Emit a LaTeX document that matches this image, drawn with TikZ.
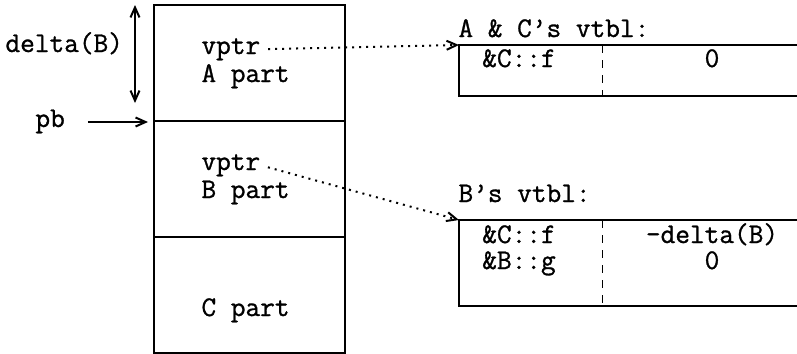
\documentclass[tikz,border=0pt]{standalone}
\usepackage{fontspec}
\setmonofont{Latin Modern Mono}[FakeBold=1]
\usetikzlibrary{arrows.meta}

\begin{document}
\begin{tikzpicture}[x=0.4pt,y=-0.4pt, >={Straight Barb[length=4pt,width=3.6pt]},
    every node/.style={font=\ttfamily\fontsize{11.4}{13}\selectfont},
    part/.style={draw, thick, minimum width=76.4pt, minimum height=46.4pt, inner sep=0pt},
    vtbl/.style={minimum width=136pt, inner sep=0pt, anchor=north west},
    txt/.style={anchor=base west, inner sep=0pt},
    ctxt/.style={anchor=base, inner sep=0pt},
    link/.style={->, dotted, thick, shorten <=3pt}]
  \useasboundingbox (0,0) rectangle (797,353);

  % the object
  \node[part] (partA) at (249.5,63) {};
  \node[part] (partB) at (249.5,179) {};
  \node[part] (partC) at (249.5,295) {};
  \node[txt] (vptrA) at (201,54) {vptr};
  \node[txt] at (201,82) {A part};
  \node[txt] (vptrB) at (201,170) {vptr};
  \node[txt] at (201,198) {B part};
  \node[txt] at (201,316) {C part};

  % offset and pointer
  \node[txt] (dlabel) at (5,52) {delta(B)};
  \coordinate (dtop) at (135,5);
  \coordinate (dbot) at (135,103);
  \draw[<->, thick] (dtop) -- (dbot);
  \node[txt] (pbl) at (35,127) {pb};
  \draw[->, thick, shorten <=9pt, shorten >=2pt] (pbl.east |- partA.south) -- (partA.south west);

  % vtables
  \node[txt] (acl) at (458,37) {A \& C’s vtbl:};
  \node[vtbl, minimum height=20pt] (vtblAC) at (459,45) {};
  \draw[thick] (vtblAC.north east) -- (vtblAC.north west) -- (vtblAC.south west) -- (vtblAC.south east);
  \draw[dashed] ([xshift=57.2pt]vtblAC.north west) -- ([xshift=57.2pt]vtblAC.south west);
  \node[ctxt] at (519,67) {\&C::f};
  \node[ctxt] at (712,67) {0};

  \node[txt] (bl) at (458,202) {B’s vtbl:};
  \node[vtbl, minimum height=34pt] (vtblB) at (459,220) {};
  \draw[thick] (vtblB.north east) -- (vtblB.north west) -- (vtblB.south west) -- (vtblB.south east);
  \draw[dashed] ([xshift=57.2pt]vtblB.north west) -- ([xshift=57.2pt]vtblB.south west);
  \node[ctxt] at (519,243) {\&C::f};
  \node[ctxt] at (519,269) {\&B::g};
  \node[ctxt] at (712,243) {-delta(B)};
  \node[ctxt] at (712,269) {0};

  % vptr links
  \draw[link] (vptrA.east) -- (vtblAC.north west);
  \draw[link] (vptrB.east) -- (vtblB.north west);
\end{tikzpicture}
\end{document}
